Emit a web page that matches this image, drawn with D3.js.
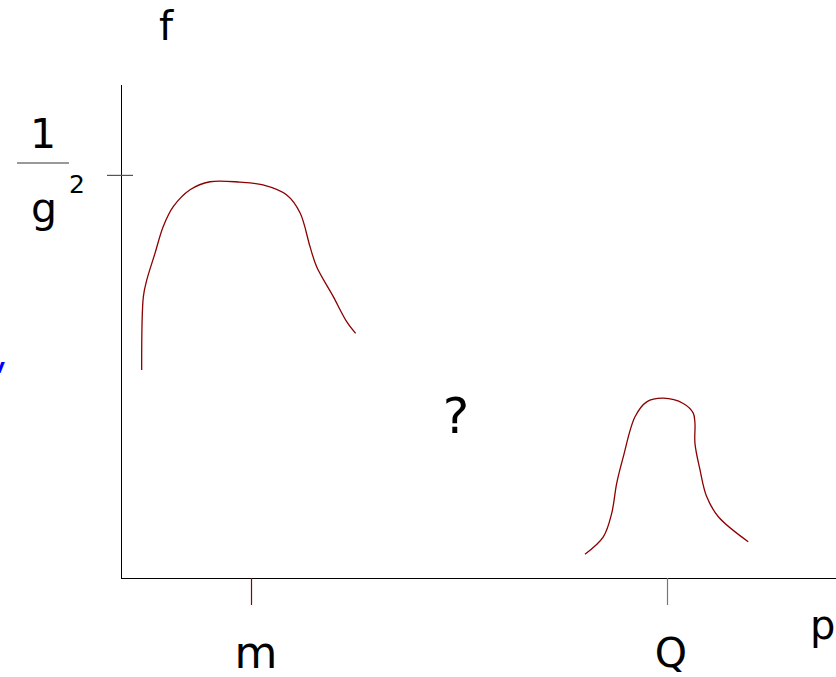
<!DOCTYPE html>
<html>
<head>
<meta charset="utf-8">
<script src="https://cdn.jsdelivr.net/npm/d3@7"></script>
<style>
  body { margin: 0; background: #fff; }
  svg { display: block; font-family: "DejaVu Sans", sans-serif; }
</style>
</head>
<body>
<div id="chart"></div>
<script>
/*///////////////////////////////////////////////////////////
//Data
///////////////////////////////////////////////////////////*/
// x in units where m = 1 and Q = 4.2, y in units of 1/g^2
var peakLeft = [
	[0.159, 0.516], [0.172, 0.698], [0.198, 0.739], [0.262, 0.806],
	[0.325, 0.872], [0.402, 0.921], [0.531, 0.963], [0.685, 0.983],
	[0.915, 0.982], [1.092, 0.975], [1.275, 0.950], [1.377, 0.906],
	[1.454, 0.822], [1.505, 0.772], [1.633, 0.698], [1.736, 0.636],
	[1.805, 0.607]
];
var peakRight = [
	[3.569, 0.059], [3.710, 0.102], [3.775, 0.161], [3.813, 0.235],
	[3.864, 0.301], [3.954, 0.400], [4.044, 0.437], [4.172, 0.446],
	[4.325, 0.433], [4.402, 0.409], [4.415, 0.384], [4.415, 0.334],
	[4.454, 0.268], [4.505, 0.202], [4.595, 0.152], [4.825, 0.090]
];
var xTicks = [{v: 1.0, label: "m", color: "#8b0000"}, {v: 4.2, label: "Q", color: "#777"}];
var yTickValue = 1;

var width = 836, height = 677;

var x = d3.scaleLinear().domain([0, 5.5]).range([121, 836]);
var y = d3.scaleLinear().domain([0, 1.223]).range([578, 85]);

var svg = d3.select("#chart").append("svg")
	.attr("width", width)
	.attr("height", height);

/*Axes*/
svg.append("line")
	.attr("x1", x(0) + 0.5).attr("x2", x(0) + 0.5)
	.attr("y1", y(0)).attr("y2", y.range()[1])
	.style("stroke", "#000").style("stroke-width", 1);
svg.append("line")
	.attr("x1", x(0)).attr("x2", x.range()[1])
	.attr("y1", y(0) + 0.5).attr("y2", y(0) + 0.5)
	.style("stroke", "#000").style("stroke-width", 1);

/*x ticks and labels*/
xTicks.forEach(function(t) {
	svg.append("line")
		.attr("x1", x(t.v) + 0.5).attr("x2", x(t.v) + 0.5)
		.attr("y1", y(0)).attr("y2", y(0) + 27)
		.style("stroke", t.color).style("stroke-width", 1.2);
});
svg.append("text")
	.attr("text-anchor", "middle")
	.attr("x", x(xTicks[0].v) + 5).attr("y", 668)
	.style("font-size", "44px")
	.text(xTicks[0].label);
svg.append("text")
	.attr("text-anchor", "middle")
	.attr("x", x(xTicks[1].v) + 4).attr("y", 667)
	.style("font-size", "41px")
	.text(xTicks[1].label);

/*y tick with fraction label*/
svg.append("line")
	.attr("x1", x(0) - 14).attr("x2", x(0) + 12)
	.attr("y1", y(yTickValue) + 0.5).attr("y2", y(yTickValue) + 0.5)
	.style("stroke", "#555").style("stroke-width", 1.2);
svg.append("line")
	.attr("x1", 17).attr("x2", 69)
	.attr("y1", 163).attr("y2", 163)
	.style("stroke", "#777").style("stroke-width", 1.5);
svg.append("text")
	.attr("text-anchor", "middle")
	.attr("x", 43).attr("y", 148)
	.style("font-size", "41px")
	.text("1");
svg.append("text")
	.attr("text-anchor", "middle")
	.attr("x", 44).attr("y", 222)
	.style("font-size", "41px")
	.text("g");
svg.append("text")
	.attr("text-anchor", "middle")
	.attr("x", 77).attr("y", 193)
	.style("font-size", "25px")
	.text("2");

/*Axis titles*/
svg.append("text")
	.attr("text-anchor", "middle")
	.attr("x", 166).attr("y", 40)
	.style("font-size", "40px")
	.text("f");
svg.append("text")
	.attr("text-anchor", "start")
	.attr("x", 810).attr("y", 639)
	.style("font-size", "40px")
	.text("p");
svg.append("text")
	.attr("text-anchor", "middle")
	.attr("x", 456).attr("y", 433)
	.style("font-size", "50px")
	.text("?");
svg.append("text")
	.attr("text-anchor", "end")
	.attr("x", 5).attr("y", 373)
	.style("font-size", "20px")
	.style("font-weight", "bold")
	.style("fill", "blue")
	.text("v");

/*Curves*/
var line = d3.line()
	.x(function(d) { return x(d[0]); })
	.y(function(d) { return y(d[1]); })
	.curve(d3.curveCatmullRom.alpha(0.5));

[peakLeft, peakRight].forEach(function(data) {
	svg.append("path")
		.datum(data)
		.attr("d", line)
		.style("fill", "none")
		.style("stroke", "#8b0000")
		.style("stroke-width", 1.3);
});
</script>
</body>
</html>
